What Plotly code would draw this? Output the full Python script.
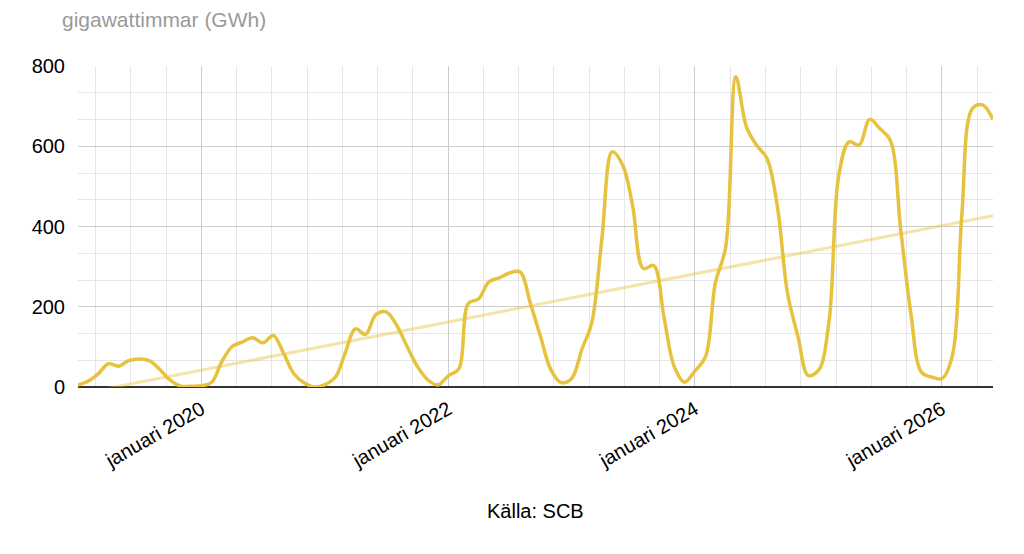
import plotly.graph_objects as go
import pandas as pd

# Monthly values, January 2019 – June 2026 (GWh)
months = pd.date_range("2019-01-01", "2026-06-01", freq="MS").strftime("%Y-%m-%d").tolist()
values_2019 = [5, 15, 32, 58, 52, 66, 70, 65, 43, 17, 2, 2]
values_2020 = [3, 12, 62, 101, 112, 123, 110, 128, 83, 33, 10, 0]
values_2021 = [6, 25, 83, 145, 131, 181, 187, 154, 101, 52, 18, 5]
values_2022 = [28, 45, 208, 220, 262, 272, 284, 287, 208, 125, 42, 11]
values_2023 = [21, 96, 158, 374, 586, 553, 449, 295, 303, 175, 50, 12]
values_2024 = [40, 75, 258, 349, 773, 649, 603, 570, 449, 233, 125, 29]
values_2025 = [42, 166, 524, 611, 603, 667, 644, 615, 391, 183, 37, 25]
values_2026 = [21, 79, 432, 694, 703, 667]
values = (values_2019 + values_2020 + values_2021 + values_2022 + values_2023
          + values_2024 + values_2025 + values_2026)

# Linear trend line end values (GWh)
trend_dates = [months[0], months[-1]]
trend_values = [-18, 427]

tick_dates = ["2020-01-01", "2022-01-01", "2024-01-01", "2026-01-01"]
tick_labels = ["januari 2020", "januari 2022", "januari 2024", "januari 2026"]
y_ticks = [0, 200, 400, 600, 800]

FONT = "Liberation Sans, Arial, sans-serif"

# the page body adds an 8px offset, so the figure is 8px smaller on each axis
W, H = 1016, 546

fig = go.Figure()
fig.add_trace(go.Scatter(
    x=trend_dates, y=trend_values, mode="lines",
    line=dict(color="rgba(232,193,60,0.45)", width=3),
    hoverinfo="skip", showlegend=False,
))
fig.add_trace(go.Scatter(
    x=months, y=values, mode="lines",
    line=dict(color="#e6c23f", width=3.5, shape="spline", smoothing=1.0),
    showlegend=False,
))

minor_ms = 730.5 * 86400000 / 7

fig.update_layout(
    width=W, height=H,
    margin=dict(l=70, r=31, t=58, b=167),
    paper_bgcolor="white", plot_bgcolor="white",
    font=dict(family=FONT, size=20, color="#000000"),
    title=dict(text="gigawattimmar (GWh)", x=54 / W, xanchor="left",
               y=1 - 12 / H, yanchor="middle",
               font=dict(family=FONT, size=21, color="#9a9a9a")),
    xaxis=dict(
        type="date", range=[months[0], months[-1]],
        tickmode="array", tickvals=tick_dates, ticktext=tick_labels,
        tickangle=-30, tickfont=dict(size=20, color="#000000"),
        showgrid=True, gridcolor="#cccccc", gridwidth=1,
        minor=dict(tickmode="linear", tick0="2020-01-01", dtick=minor_ms,
                   showgrid=True, gridcolor="#e6e6e6", gridwidth=1),
        zeroline=False, showline=False, ticks="",
        ticklabelstandoff=6,
    ),
    yaxis=dict(
        range=[0, 800], tickmode="array", tickvals=y_ticks,
        tickfont=dict(size=20, color="#000000"),
        showgrid=True, gridcolor="#cccccc", gridwidth=1,
        minor=dict(tickmode="linear", tick0=0, dtick=200 / 3,
                   showgrid=True, gridcolor="#e6e6e6", gridwidth=1),
        zeroline=True, zerolinecolor="#333333", zerolinewidth=2,
        showline=False, ticks="", ticklabelstandoff=12,
    ),
    annotations=[dict(
        text="Källa: SCB", xref="paper", yref="paper",
        x=0.5, y=-(511 - 387) / 321, xanchor="center", yanchor="middle",
        showarrow=False, font=dict(family=FONT, size=20, color="#000000"),
    )],
)

fig.write_html("out.html")
